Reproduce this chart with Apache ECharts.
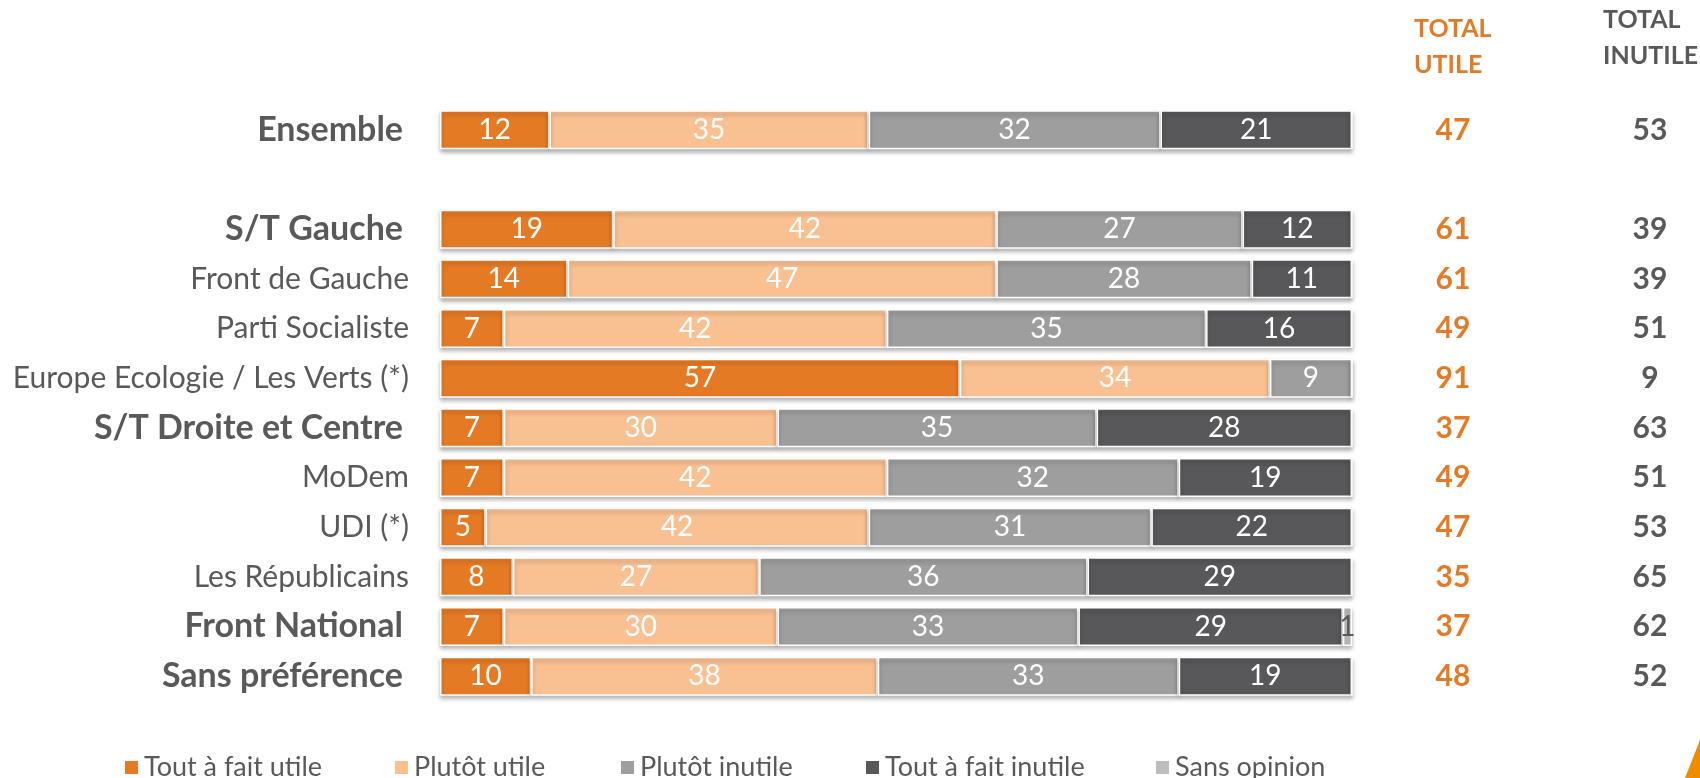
<!DOCTYPE html>
<html>
<head>
<meta charset="utf-8">
<script src="https://cdn.jsdelivr.net/npm/echarts@6/dist/echarts.min.js"></script>
<style>
    html, body { margin: 0; padding: 0; background: #fff; }
    #chartBox { width: 1700px; height: 778px; }
</style>
</head>
<body>
<div id="chartBox"></div>
<script>
// categories (empty string = gap row between Ensemble and S/T Gauche)
var categories = ['Ensemble', '', 'S/T Gauche', 'Front de Gauche', 'Parti Socialiste',
    'Europe Ecologie / Les Verts (*)', 'S/T Droite et Centre', 'MoDem', 'UDI (*)',
    'Les Républicains', 'Front National', 'Sans préférence'];
var boldRows = ['Ensemble', 'S/T Gauche', 'S/T Droite et Centre', 'Front National', 'Sans préférence'];

var seriesNames = ['Tout à fait utile', 'Plutôt utile', 'Plutôt inutile', 'Tout à fait inutile', 'Sans opinion'];
var toutUtile    = [12, null, 19, 14, 7, 57, 7, 7, 5, 8, 7, 10];
var plutotUtile  = [35, null, 42, 47, 42, 34, 30, 42, 42, 27, 30, 38];
var plutotInutile = [32, null, 27, 28, 35, 9, 35, 32, 31, 36, 33, 33];
var toutInutile  = [21, null, 12, 11, 16, 0, 28, 19, 22, 29, 29, 19];
var sansOpinion  = [0, null, 0, 0, 0, 0, 0, 0, 0, 0, 1, 0];

var totalUtile   = ['47', '', '61', '61', '49', '91', '37', '49', '47', '35', '37', '48'];
var totalInutile = ['53', '', '39', '39', '51', '9', '63', '51', '53', '65', '62', '52'];

var colors = ['#E57A25', '#F9C092', '#9E9E9F', '#58585A', '#BDBDBD'];
var textColor = '#595959';
var fontFam = 'Lato, "Open Sans", sans-serif';

var myChart = echarts.init(document.getElementById('chartBox'));

var values = [toutUtile, plutotUtile, plutotInutile, toutInutile, sansOpinion];
var series = [];
for (var i = 0; i < seriesNames.length; i++) {
    series.push({
        name: seriesNames[i],
        type: 'bar',
        stack: 'all',
        barWidth: 39,
        data: values[i],
        itemStyle: {
            color: colors[i],
            borderColor: '#fff',
            borderWidth: 1.5,
            shadowColor: 'rgba(0,0,0,0.28)',
            shadowBlur: 4,
            shadowOffsetY: 3
        },
        label: {
            show: true,
            position: 'inside',
            color: i == 4 ? textColor : '#fff',
            fontFamily: fontFam,
            fontSize: 28,
            formatter: function (p) { return p.value ? p.value : ''; }
        }
    });
}

// one legend per item so each sits where the reference puts it
var legendLeft = [118, 388, 614, 859, 1149];
var legends = [];
for (var j = 0; j < seriesNames.length; j++) {
    legends.push({
        data: [seriesNames[j]],
        left: legendLeft[j],
        top: 749,
        itemWidth: 15,
        itemHeight: 15,
        itemGap: 0,
        icon: 'rect',
        textStyle: { color: textColor, fontFamily: fontFam, fontSize: 27, padding: [0, 0, 0, 0] }
    });
}

var option = {
    animation: false,
    backgroundColor: '#fff',
    color: colors,
    legend: legends,
    grid: { left: 440, right: 348, top: 105, bottom: 77 },
    xAxis: { type: 'value', min: 0, max: 100, show: false },
    yAxis: [
        {
            type: 'category',
            inverse: true,
            data: categories,
            axisLine: { show: false },
            axisTick: { show: false },
            axisLabel: {
                margin: 31,
                formatter: function (v) {
                    return boldRows.indexOf(v) >= 0 ? '{b|' + v + '}' : '{n|' + v + '}';
                },
                rich: {
                    b: { fontFamily: fontFam, fontWeight: 'bold', fontSize: 34, color: textColor, padding: [0, 6, 0, 0] },
                    n: { fontFamily: fontFam, fontSize: 30, color: textColor }
                }
            }
        },
        {
            type: 'category',
            inverse: true,
            position: 'right',
            data: totalUtile,
            axisLine: { show: false },
            axisTick: { show: false },
            axisLabel: {
                margin: 101,
                align: 'center',
                color: '#E57A25',
                fontFamily: fontFam,
                fontWeight: 'bold',
                fontSize: 30
            }
        },
        {
            type: 'category',
            inverse: true,
            position: 'right',
            data: totalInutile,
            axisLine: { show: false },
            axisTick: { show: false },
            axisLabel: {
                margin: 298,
                align: 'center',
                color: textColor,
                fontFamily: fontFam,
                fontWeight: 'bold',
                fontSize: 30
            }
        }
    ],
    graphic: [
        {
            type: 'text', left: 1414, top: 11,
            style: {
                text: 'TOTAL\nUTILE', align: 'center', fill: '#E57A25',
                font: 'bold 25px ' + fontFam, lineHeight: 36
            }
        },
        {
            type: 'text', top: 2, left: 1603,
            style: {
                text: 'TOTAL\nINUTILE', align: 'center', fill: textColor,
                font: 'bold 25px ' + fontFam, lineHeight: 36
            }
        },
        {
            type: 'polygon',
            shape: { points: [[1685, 778], [1700, 740], [1700, 778]] },
            style: { fill: '#F08C00' }
        }
    ],
    series: series
};
myChart.setOption(option);
</script>
</body>
</html>
